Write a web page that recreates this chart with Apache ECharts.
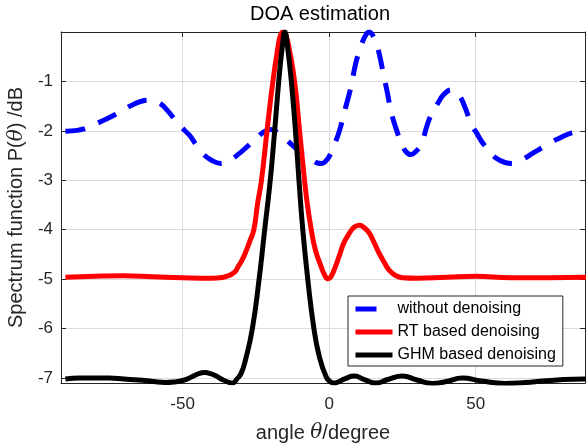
<html style="height: 100%">
<head>
<meta charset="utf-8">
</head>
<body style="height: 100%; width: 100%; margin: 0">
<div id="container" style="height: 448px; width: 586px;"></div>
<script src="https://cdn.jsdelivr.net/npm/echarts@6/dist/echarts.min.js"></script>
<script type="text/javascript">
var xTicks = [-50, 0, 50];
var yTicks = [-7, -6, -5, -4, -3, -2, -1];

// without denoising
var blueAngle = [-90, -86, -83, -80, -76, -73, -70, -67, -64, -61, -58, -55, -52, -49.5, -47.5, -45, -43, -40, -37, -34,
	-30.5, -28, -25.4, -22.5, -20, -17.9, -16, -14.2, -11, -8.4, -6, -4, -2.5, -1, 0, 1.8, 3.5, 5.5, 7.5, 9,
	11, 12.5, 13.7, 15, 16.2, 17.5, 18.5, 19.8, 21.2, 23.2, 25, 26.5, 28, 29.5, 31.4, 33.4, 35, 37, 39, 41.6,
	44, 46, 48.7, 50.5, 52.1, 54.5, 56.9, 60, 63, 66, 69.8, 73, 76, 79.5, 82.8, 87.2, 90];
var blueP = [-2.01, -1.99, -1.95, -1.87, -1.76, -1.67, -1.57, -1.47, -1.40, -1.38, -1.43, -1.60, -1.82, -1.98, -2.10, -2.32, -2.47, -2.60, -2.66, -2.60,
	-2.45, -2.32, -2.18, -2.03, -1.97, -2.02, -2.10, -2.20, -2.37, -2.49, -2.58, -2.65, -2.66, -2.60, -2.52, -2.28, -2.00, -1.55, -1.10, -0.65,
	-0.26, -0.06, 0, -0.08, -0.25, -0.55, -0.85, -1.21, -1.63, -2.02, -2.30, -2.44, -2.48, -2.42, -2.28, -1.89, -1.65, -1.45, -1.27, -1.17,
	-1.25, -1.47, -1.89, -2.06, -2.22, -2.40, -2.55, -2.64, -2.66, -2.58, -2.44, -2.33, -2.22, -2.12, -2.04, -2.00, -1.98];

// RT based denoising
var redAngle = [-90, -80, -70, -60, -50, -40, -36, -34.5, -33.3, -32, -31.1, -29.6, -28.2, -27, -25.7, -24.5, -23.1, -21.2, -19.2, -17.5,
	-16.6, -15.7, -14.7, -13.7, -11.8, -10.1, -8.4, -7.4, -6.1, -4.7, -2.7, -1.5, -0.5, 0.5, 2.1, 3.5, 5, 6.9, 8.5, 10.3,
	12, 13.7, 15.5, 17.1, 19, 20.5, 22.5, 25, 30, 40, 50, 62, 75, 90];
var redP = [-4.96, -4.94, -4.93, -4.95, -4.97, -4.98, -4.96, -4.93, -4.90, -4.84, -4.75, -4.60, -4.41, -4.22, -4.00, -3.50, -3.00, -2.00, -1.00, -0.32,
	-0.06, 0, -0.08, -0.32, -1.00, -2.00, -3.00, -3.50, -4.00, -4.41, -4.75, -4.92, -4.99, -4.96, -4.75, -4.52, -4.27, -4.07, -3.95, -3.91,
	-3.96, -4.07, -4.28, -4.48, -4.68, -4.82, -4.92, -4.97, -4.98, -4.96, -4.94, -4.97, -4.97, -4.96];

// GHM based denoising
var blackAngle = [-90, -85, -80, -75, -70, -65, -60, -56, -53, -50, -47, -44.5, -42.4, -40.5, -38.5, -36.5, -34.5, -33, -31.5, -30,
	-28.5, -26.2, -23.9, -22, -20.1, -18.6, -17.2, -16, -15.1, -14.2, -12.9, -11.5, -10.3, -9, -7.3, -5.2, -3.3, -1, 0.3, 1.5,
	3, 5.5, 8.6, 12, 16, 20, 25, 30, 35.2, 40, 45.4, 52, 60, 67, 73, 80, 87, 90];
var blackP = [-7.02, -7.00, -7.00, -7.00, -7.02, -7.04, -7.07, -7.09, -7.08, -7.05, -6.98, -6.91, -6.89, -6.91, -6.96, -7.03, -7.08, -7.10, -7.02, -6.90,
	-6.62, -6.00, -5.00, -4.00, -3.00, -2.00, -1.00, -0.30, 0, -0.30, -1.00, -2.00, -3.00, -4.00, -5.00, -6.00, -6.58, -6.98, -7.07, -7.10,
	-7.08, -7.01, -6.96, -7.03, -7.10, -7.03, -6.96, -7.04, -7.11, -7.07, -7.00, -7.06, -7.11, -7.09, -7.06, -7.03, -7.02, -7.02];

function pairs(a, b) {
	var out = [];
	for (var i = 0; i < a.length; i++) {
		out.push([a[i], b[i]]);
	}
	return out;
}

var font = 'Liberation Sans, Arial, sans-serif';
var axisColor = '#262626';

var dom = document.getElementById("container");
var myChart = echarts.init(dom);

var option = {
	animation: false,
	backgroundColor: '#ffffff',
	title: {
		text: 'DOA estimation',
		left: 320,
		top: 4,
		padding: 0,
		textAlign: 'center',
		textStyle: {fontSize: 20, fontWeight: 'normal', color: '#000', fontFamily: font}
	},
	grid: {left: 61, right: 1, top: 32, bottom: 65, containLabel: false, outerBoundsMode: 'none'},
	legend: {
		orient: 'vertical',
		left: 348,
		top: 296,
		padding: [5, 7, 3, 5],
		itemGap: 7,
		itemWidth: 37,
		itemHeight: 14,
		backgroundColor: '#ffffff',
		borderColor: axisColor,
		borderWidth: 1,
		borderRadius: 0,
		itemStyle: {opacity: 0},
		lineStyle: {width: 5},
		textStyle: {fontSize: 16, color: '#000', fontFamily: font, lineHeight: 16},
		data: [
			{name: 'without denoising', lineStyle: {width: 5, type: [21, 40]}},
			{name: 'RT based denoising', lineStyle: {width: 5}},
			{name: 'GHM based denoising', lineStyle: {width: 5}}
		]
	},
	xAxis: [{
		type: 'value',
		min: -91.5,
		max: 87.3,
		position: 'bottom',
		axisLine: {show: true, onZero: false, lineStyle: {color: axisColor, width: 1}},
		axisTick: {show: true, inside: true, length: 5, customValues: xTicks, lineStyle: {color: axisColor}},
		axisLabel: {customValues: xTicks, margin: 13, fontSize: 17, color: axisColor, fontFamily: font},
		splitLine: {show: true, lineStyle: {color: '#dcdcdc', width: 1}},
		name: 'angle {i|θ}/degree',
		nameLocation: 'middle',
		nameGap: 40,
		nameTextStyle: {fontSize: 20, color: axisColor, fontFamily: font,
			rich: {i: {fontSize: 20, fontStyle: 'italic', color: axisColor, fontFamily: 'DejaVu Serif, serif'}}}
	}, {
		type: 'value',
		min: -91.5,
		max: 87.3,
		position: 'top',
		axisLine: {show: true, onZero: false, lineStyle: {color: axisColor, width: 1}},
		axisTick: {show: true, inside: true, length: 5, customValues: xTicks, lineStyle: {color: axisColor}},
		axisLabel: {show: false},
		splitLine: {show: false}
	}],
	yAxis: [{
		type: 'value',
		min: -7.1,
		max: 0,
		position: 'left',
		axisLine: {show: true, onZero: false, lineStyle: {color: axisColor, width: 1}},
		axisTick: {show: true, inside: true, length: 5, customValues: yTicks, lineStyle: {color: axisColor}},
		axisLabel: {customValues: yTicks, margin: 8, fontSize: 17, color: axisColor, fontFamily: font},
		splitLine: {show: true, lineStyle: {color: '#dcdcdc', width: 1}},
		name: 'Spectrum function P({i|θ}) /dB',
		nameLocation: 'middle',
		nameGap: 27,
		nameTextStyle: {fontSize: 20, color: axisColor, fontFamily: font,
			rich: {i: {fontSize: 20, fontStyle: 'italic', color: axisColor, fontFamily: 'DejaVu Serif, serif'}}}
	}, {
		type: 'value',
		min: -7.1,
		max: 0,
		position: 'right',
		axisLine: {show: true, onZero: false, lineStyle: {color: axisColor, width: 1}},
		axisTick: {show: true, inside: true, length: 5, customValues: yTicks, lineStyle: {color: axisColor}},
		axisLabel: {show: false},
		splitLine: {show: false}
	}],
	series: [{
		name: 'without denoising',
		type: 'line',
		data: pairs(blueAngle, blueP),
		symbol: 'none',
		smooth: 0.4,
		itemStyle: {color: '#0000ff'},
		lineStyle: {color: '#0000ff', width: 5, type: [20, 14], cap: 'butt'}
	}, {
		name: 'RT based denoising',
		type: 'line',
		data: pairs(redAngle, redP),
		symbol: 'none',
		smooth: 0.5,
		itemStyle: {color: '#ff0000'},
		lineStyle: {color: '#ff0000', width: 5}
	}, {
		name: 'GHM based denoising',
		type: 'line',
		data: pairs(blackAngle, blackP),
		symbol: 'none',
		smooth: 0.5,
		itemStyle: {color: '#000000'},
		lineStyle: {color: '#000000', width: 5}
	}]
};

myChart.setOption(option);
</script>
</body>
</html>
